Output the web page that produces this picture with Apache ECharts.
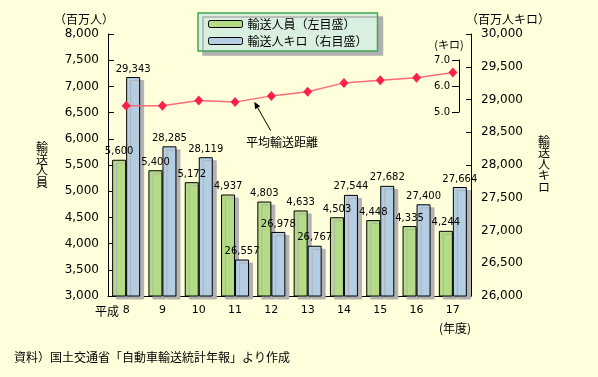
<!DOCTYPE html>
<html>
<head>
<meta charset="utf-8">
<title>輸送人員・輸送人キロ</title>
<script src="https://cdn.jsdelivr.net/npm/echarts@6/dist/echarts.min.js"></script>
<style>
  html, body { margin: 0; padding: 0; background: #ffffdc; }
  #main { width: 598px; height: 377px; }
</style>
</head>
<body>
<div id="main"></div>
<script>
// 年度（平成）
const years = ['8', '9', '10', '11', '12', '13', '14', '15', '16', '17'];
// 輸送人員（百万人）
const passengers = [5600, 5400, 5172, 4937, 4803, 4633, 4503, 4448, 4335, 4244];
// 輸送人キロ（百万人キロ）
const passengerKm = [29343, 28285, 28119, 26557, 26978, 26767, 27544, 27682, 27400, 27664];
// 平均輸送距離（キロ）
const avgDistance = [5.24, 5.24, 5.44, 5.38, 5.62, 5.78, 6.12, 6.22, 6.32, 6.52];

const NUM = "'DejaVu Sans', 'Noto Sans CJK JP'";
const JP = "'Noto Sans CJK JP', 'DejaVu Sans'";

function fmt(v) {
  return String(v).replace(/\B(?=(\d{3})+(?!\d))/g, ',');
}

const chart = echarts.init(document.getElementById('main'));

const barShadow = {
  borderColor: '#000',
  borderWidth: 1,
  shadowColor: '#b2b2b2',
  shadowBlur: 0,
  shadowOffsetX: 4,
  shadowOffsetY: 3
};

chart.setOption({
  animation: false,
  backgroundColor: '#ffffdc',
  textStyle: { fontFamily: NUM, color: '#000' },
  legend: {
    orient: 'vertical',
    left: 198,
    top: 13,
    padding: [5, 10, 4, 10],
    itemWidth: 34,
    itemHeight: 7,
    itemGap: 5,
    backgroundColor: '#d9efdf',
    borderColor: '#41a551',
    borderWidth: 1.5,
    shadowColor: '#b0b0b0',
    shadowBlur: 0,
    shadowOffsetX: 5,
    shadowOffsetY: 4,
    itemStyle: { borderColor: '#000', borderWidth: 1, shadowColor: 'rgba(0,0,0,0)' },
    textStyle: { fontFamily: JP, fontSize: 12, color: '#000' },
    data: ['輸送人員（左目盛）', '輸送人キロ（右目盛）']
  },
  grid: [
    { left: 108, right: 127, top: 34, bottom: 81 },
    { left: 108, right: 127, top: 60, height: 52 }
  ],
  xAxis: [
    {
      type: 'category',
      gridIndex: 0,
      data: years,
      axisLine: { lineStyle: { color: '#000', width: 1 } },
      axisTick: { show: false },
      axisLabel: { color: '#000', fontSize: 11, margin: 9, fontFamily: NUM }
    },
    {
      type: 'category',
      gridIndex: 1,
      data: years,
      show: false
    }
  ],
  yAxis: [
    {
      type: 'value',
      gridIndex: 0,
      position: 'left',
      min: 3000,
      max: 8000,
      interval: 500,
      splitLine: { show: false },
      axisLine: { show: true, lineStyle: { color: '#000', width: 1 } },
      axisTick: { show: true, inside: true, length: 6, lineStyle: { color: '#000' } },
      axisLabel: { color: '#000', fontSize: 12, margin: 9, formatter: fmt }
    },
    {
      type: 'value',
      gridIndex: 0,
      position: 'right',
      min: 26000,
      max: 30000,
      interval: 500,
      splitLine: { show: false },
      axisLine: { show: true, lineStyle: { color: '#000', width: 1 } },
      axisTick: { show: true, inside: true, length: 5, lineStyle: { color: '#000' } },
      axisLabel: { color: '#000', fontSize: 12, margin: 10, formatter: fmt }
    },
    {
      type: 'value',
      gridIndex: 1,
      position: 'right',
      offset: -12,
      min: 5,
      max: 7,
      interval: 1,
      splitLine: { show: false },
      axisLine: { show: true, lineStyle: { color: '#000', width: 1 } },
      axisTick: { show: true, inside: true, length: 7, lineStyle: { color: '#000' } },
      axisLabel: {
        inside: true, color: '#000', fontSize: 10, margin: 9,
        formatter: v => v.toFixed(1)
      }
    }
  ],
  series: [
    {
      name: '輸送人員（左目盛）',
      type: 'bar',
      xAxisIndex: 0,
      yAxisIndex: 0,
      data: passengers,
      barWidth: 14,
      barGap: '0%',
      itemStyle: Object.assign({ color: '#b4dc84' }, barShadow),
      label: {
        show: true, position: 'top', distance: 3,
        fontSize: 10, color: '#000', fontFamily: NUM,
        formatter: p => fmt(p.value)
      }
    },
    {
      name: '輸送人キロ（右目盛）',
      type: 'bar',
      xAxisIndex: 0,
      yAxisIndex: 1,
      data: passengerKm,
      barWidth: 14,
      barGap: '0%',
      itemStyle: Object.assign({ color: '#b3cde3' }, barShadow),
      label: {
        show: true, position: 'top', distance: 3,
        fontSize: 10, color: '#000', fontFamily: NUM,
        formatter: p => fmt(p.value)
      }
    },
    {
      name: '平均輸送距離',
      type: 'line',
      xAxisIndex: 1,
      yAxisIndex: 2,
      data: avgDistance,
      symbol: 'diamond',
      symbolSize: [9, 10],
      z: 5,
      lineStyle: { color: '#ff6a7a', width: 1.5 },
      itemStyle: { color: '#ff2050' }
    }
  ],
  graphic: [
    { type: 'text', left: 54, top: 13, style: { text: '（百万人）', font: '12px ' + JP, fill: '#000' } },
    { type: 'text', left: 466, top: 13, style: { text: '（百万人キロ）', font: '12px ' + JP, fill: '#000' } },
    { type: 'text', x: 449, y: 44.5, style: { text: '(キロ)', font: '11px ' + JP, fill: '#000', align: 'center', verticalAlign: 'middle' } },
    { type: 'text', x: 42, y: 165, style: { text: '輸\n送\n人\n員', font: '12px ' + JP, lineHeight: 11.5, fill: '#000', align: 'center', verticalAlign: 'middle' } },
    { type: 'text', x: 544, y: 164, style: { text: '輸\n送\n人\nキ\nロ', font: '12px ' + JP, lineHeight: 11.5, fill: '#000', align: 'center', verticalAlign: 'middle' } },
    { type: 'text', x: 119, y: 311, style: { text: '平成', font: '12px ' + JP, fill: '#000', align: 'right', verticalAlign: 'middle' } },
    { type: 'text', x: 471, y: 328, style: { text: '(年度)', font: '12px ' + JP, fill: '#000', align: 'right', verticalAlign: 'middle' } },
    { type: 'text', x: 282, y: 142.5, style: { text: '平均輸送距離', font: '12px ' + JP, fill: '#000', align: 'center', verticalAlign: 'middle' } },
    { type: 'line', shape: { x1: 270.7, y1: 130.7, x2: 257.7, y2: 107.8 }, style: { stroke: '#000', lineWidth: 1 } },
    { type: 'polygon', shape: { points: [[254.3, 101.7], [260.3, 106.3], [255.1, 109.3]] }, style: { fill: '#000' } },
    { type: 'text', x: 14, y: 357, style: { text: '資料）国土交通省「自動車輸送統計年報」より作成', font: '12px ' + JP, fill: '#000', align: 'left', verticalAlign: 'middle' } }
  ]
});

window.addEventListener('resize', function () {
  chart.resize();
});
</script>
</body>
</html>
